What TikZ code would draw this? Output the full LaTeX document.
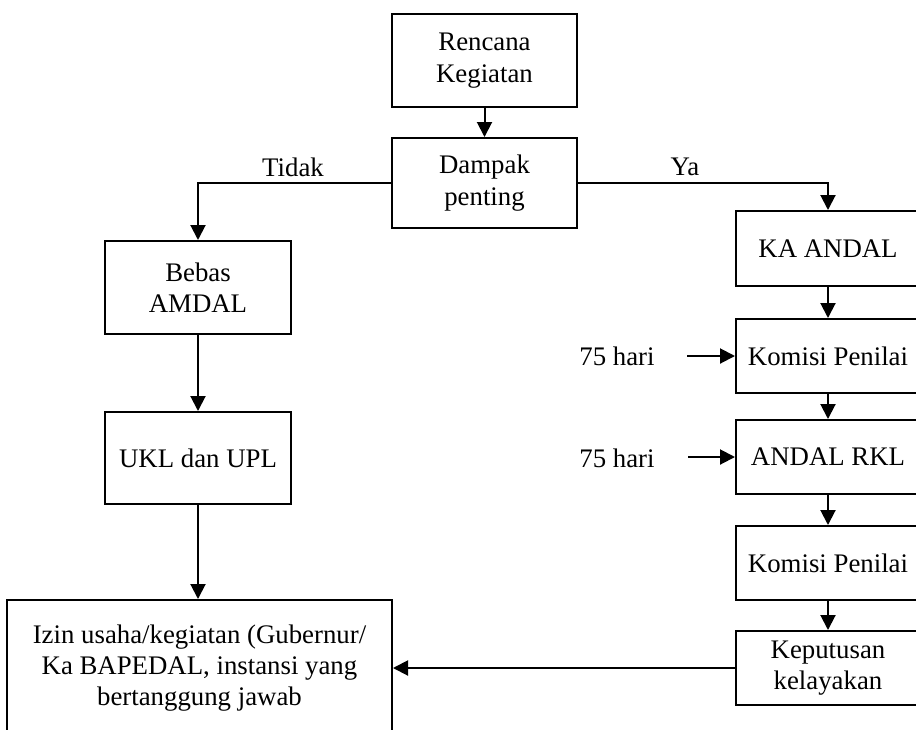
\documentclass[tikz,border=0pt]{standalone}
\usepackage{fontspec}
\setmainfont{Liberation Serif}
\usetikzlibrary{arrows.meta}
\begin{document}
\begin{tikzpicture}[x=0.5pt,y=-0.5pt,
  txt/.style={font=\fontsize{13.4}{15.7}\selectfont},
  box/.style={txt,draw,line width=1pt,align=center,inner sep=0pt},
  wbox/.style={box,minimum width=92.5pt},
  rbox/.style={box,minimum width=92pt,minimum height=37pt},
  lbl/.style={txt,inner sep=0pt},
  arr/.style={line width=1pt,-{Triangle[length=7.5pt,width=7.5pt]}}]
\useasboundingbox (0,0) rectangle (916,729);

% decision chain
\node[wbox,minimum height=46.5pt] (rencana) at (484.5,60.5) {Rencana\\Kegiatan};
\node[wbox,minimum height=45pt] (dampak) at (484.5,183) {Dampak\\penting};

% left branch
\node[box,minimum width=93pt,minimum height=46.5pt] (bebas) at (198,287.5) {Bebas\\AMDAL};
\node[box,minimum width=93pt,minimum height=46pt] (ukl) at (198,458) {UKL dan UPL};
\node[box,minimum width=192.5pt,minimum height=68pt] (izin) at (199.5,668)
  {Izin usaha/kegiatan (Gubernur/\\Ka BAPEDAL, instansi yang\\bertanggung jawab};

% right branch
\node[box,minimum width=92pt,minimum height=37.5pt] (ka) at (828,248.5) {KA ANDAL};
\node[rbox] (kom1) at (828,356) {Komisi Penilai};
\node[rbox] (andal) at (828,457) {ANDAL RKL};
\node[rbox] (kom2) at (828,563) {Komisi Penilai};
\node[rbox] (kep) at (828,668) {Keputusan\\kelayakan};

% time limits
\node[lbl] (h1) at (617,356) {75 hari};
\node[lbl] (h2) at (617,458) {75 hari};
\coordinate (s1) at (687,356);
\coordinate (s2) at (688,457);

% branch labels
\node[lbl] (tidak) at (293,167) {Tidak};
\node[lbl] (ya) at (685,167) {Ya};

% connectors
\draw[arr] (rencana) -- (dampak);
\draw[arr] (dampak.west) -| (bebas.north);
\draw[arr] (dampak.east) -| (ka.north);
\draw[arr] (bebas) -- (ukl);
\draw[arr] (ukl.south) -- (izin.north -| ukl.south);
\draw[arr] (ka) -- (kom1);
\draw[arr] (kom1) -- (andal);
\draw[arr] (andal) -- (kom2);
\draw[arr] (kom2) -- (kep);
\draw[arr] (s1) -- (kom1.west);
\draw[arr] (s2) -- (andal.west);
\draw[arr] (kep.west) -- (izin.east);
\end{tikzpicture}
\end{document}
